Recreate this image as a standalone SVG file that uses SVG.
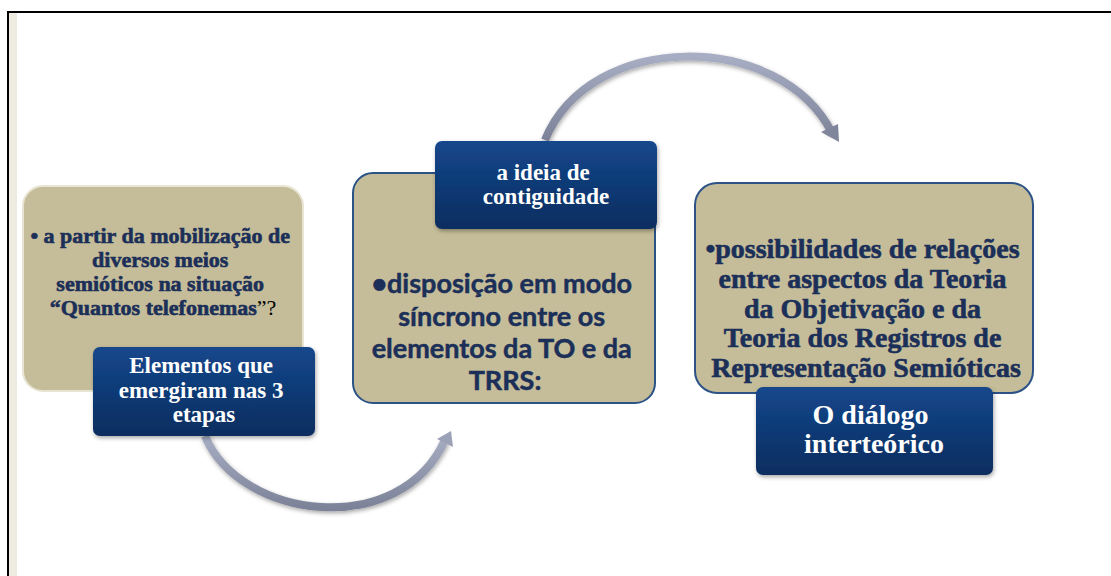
<svg xmlns="http://www.w3.org/2000/svg" width="1111" height="576" viewBox="0 0 1111 576">
<defs>
<linearGradient id="blue" x1="0" y1="0" x2="0" y2="1">
<stop offset="0" stop-color="#14478c"/>
<stop offset="1" stop-color="#0b2d5f"/>
</linearGradient>
<linearGradient id="arcg" x1="0" y1="0" x2="0" y2="1">
<stop offset="0" stop-color="#a7adc2"/>
<stop offset="1" stop-color="#7c8298"/>
</linearGradient>
<filter id="sh" x="-10%" y="-10%" width="130%" height="130%">
<feDropShadow dx="1" dy="2" stdDeviation="2" flood-color="#000" flood-opacity="0.35"/>
</filter>
</defs>
<style>
.tan{fill:#c5bd99;}
.tanb{fill:#c5bd99;stroke:#2c5286;stroke-width:2;}
.blue{fill:url(#blue);filter:url(#sh);}
.wt{font-family:"Liberation Serif",serif;font-weight:bold;fill:#ffffff;text-anchor:middle;}
.st{font-family:"Liberation Serif",serif;font-weight:bold;fill:#1b2f58;stroke:#1b2f58;stroke-width:0.6;text-anchor:middle;}
.ss{font-family:Lato,"Liberation Sans",sans-serif;font-weight:bold;fill:#1b2f58;stroke:#1b2f58;stroke-width:0.5;text-anchor:middle;}
.arc{fill:none;stroke:url(#arcg);stroke-width:8;filter:url(#sh);}
</style>
<rect x="0" y="0" width="1111" height="576" fill="#ffffff"/>
<rect x="9" y="13" width="8" height="563" fill="#eeebe0"/>
<path d="M8,576 V12 H1111" fill="none" stroke="#000" stroke-width="2"/>

<g id="connectors">
<path class="arc" d="M205,436 C240,520 400,540 445,440"/>
<path d="M437,439 L451,431 L453,447 Z" fill="#9ba1b6"/>
<path class="arc" d="M545,140 C590,30 780,30 832,133"/>
<path d="M821,132 L839,142 L838,124 Z" fill="#7f859b"/>
</g>

<g id="node1">
<rect class="tan" x="23" y="186" width="280" height="205" rx="20" stroke="#e8e4d4" stroke-width="2"/>
<text class="st" font-size="22">
<tspan x="163" y="243">• a partir da mobilização de</tspan>
<tspan x="163" y="267">diversos meios</tspan>
<tspan x="163" y="291">semióticos na situação</tspan>
<tspan x="163" y="315">“Quantos telefonemas<tspan font-weight="normal" fill="#000" stroke="none">”?</tspan></tspan>
</text>
</g>
<g id="label1">
<rect class="blue" x="93" y="347" width="222" height="89" rx="7"/>
<text class="wt" font-size="23">
<tspan x="204" y="373">Elementos que</tspan>
<tspan x="204" y="398">emergiram nas 3</tspan>
<tspan x="204" y="422">etapas</tspan>
</text>
</g>

<g id="node2">
<rect class="tanb" x="353" y="173" width="302" height="230" rx="20"/>
<text class="ss" font-size="27">
<tspan x="505" y="293">•disposição em modo</tspan>
<tspan x="505" y="326">síncrono entre os</tspan>
<tspan x="505" y="358">elementos da TO e da</tspan>
<tspan x="505" y="390">TRRS:</tspan>
</text>
</g>
<g id="label2">
<rect class="blue" x="435" y="141" width="222" height="88" rx="7"/>
<text class="wt" font-size="23">
<tspan x="546" y="180">a ideia de</tspan>
<tspan x="546" y="204">contiguidade</tspan>
</text>
</g>

<g id="node3">
<rect class="tanb" x="695" y="183" width="338" height="210" rx="22"/>
<text class="st" font-size="28">
<tspan x="866" y="258">•possibilidades de relações</tspan>
<tspan x="866" y="288">entre aspectos da Teoria</tspan>
<tspan x="866" y="318">da Objetivação e da</tspan>
<tspan x="866" y="347">Teoria dos Registros de</tspan>
<tspan x="866" y="377">Representação Semióticas</tspan>
</text>
</g>
<g id="label3">
<rect class="blue" x="756" y="387" width="237" height="88" rx="7"/>
<text class="wt" font-size="28">
<tspan x="874" y="424">O diálogo</tspan>
<tspan x="874" y="453">interteórico</tspan>
</text>
</g>
</svg>
